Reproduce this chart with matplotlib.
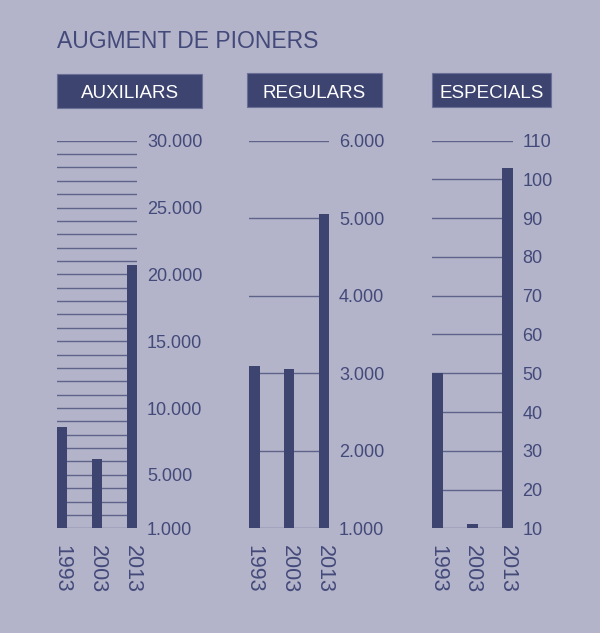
import matplotlib
matplotlib.use("Agg")
import matplotlib.pyplot as plt
from matplotlib.patches import Rectangle

plt.rcParams['font.family'] = ['Liberation Sans', 'DejaVu Sans']

# dades
anys = ['1993', '2003', '2013']
auxiliars = [8600, 6200, 20700]
regulars = [3100, 3050, 5050]
especials = [50, 11, 103]

aux_ticks = [1000, 5000, 10000, 15000, 20000, 25000, 30000]
reg_ticks = [1000, 2000, 3000, 4000, 5000, 6000]
esp_ticks = [10, 20, 30, 40, 50, 60, 70, 80, 90, 100, 110]

aux_grid = list(range(1000, 30001, 1000))
reg_grid = list(range(1000, 6001, 1000))
esp_grid = list(range(10, 111, 10))

BG = '#b3b3c9'
NAVY = '#3d4470'
GRID = '#5f6389'
TXT = '#434a7a'

W, H = 600, 633
fig = plt.figure(figsize=(W / 100, H / 100), dpi=100)
fig.patch.set_facecolor(BG)


def fx(px):
    return px / W


def fy(py):
    return (H - py) / H


def label(v):
    return f"{v:,}".replace(',', '.')


def panel(x0, x1, values, ticks, grid, title, box):
    y0, y1 = 528.3, 140.7
    ax = fig.add_axes([fx(x0), fy(y0), fx(x1) - fx(x0), fy(y1) - fy(y0)])
    ax.set_facecolor('none')
    w = 0.305
    for g in grid:
        ax.axhline(g, color=GRID, lw=1.0, zorder=1)
    base = grid[0]
    ax.bar(range(len(anys)), [v - base for v in values], width=w, bottom=base,
           color=NAVY, zorder=2)
    ax.set_xlim(-w / 2, len(anys) - 1 + w / 2)
    ax.set_ylim(grid[0], grid[-1])
    for s in ax.spines.values():
        s.set_visible(False)
    ax.yaxis.tick_right()
    ax.set_yticks(ticks)
    ax.set_yticklabels([label(t) for t in ticks])
    ax.tick_params(axis='y', length=0, pad=7, labelsize=13, labelcolor=TXT)
    ax.set_xticks(range(len(anys)))
    ax.set_xticklabels(anys, rotation=-90)
    ax.tick_params(axis='x', length=0, pad=12, labelsize=15.5, labelcolor=TXT)

    bx0, bx1, by0, by1 = box
    fig.add_artist(Rectangle((fx(bx0), fy(by1)), fx(bx1) - fx(bx0), fy(by0) - fy(by1),
                             transform=fig.transFigure, facecolor=NAVY,
                             edgecolor='#6a6f95', lw=0.8))
    fig.text(fx((bx0 + bx1) / 2), fy(97.8), title, color='white',
             fontsize=13.5, ha='center', va='baseline')
    return ax


panel(56.7, 137.3, auxiliars, aux_ticks, aux_grid, 'AUXILIARS', (57.3, 202.3, 74, 108.3))
panel(249.0, 329.3, regulars, reg_ticks, reg_grid, 'REGULARS', (246.7, 382.3, 73.3, 107.3))
panel(432.3, 512.7, especials, esp_ticks, esp_grid, 'ESPECIALS', (431.7, 550.7, 73.3, 107.3))

fig.text(fx(57), fy(48), 'AUGMENT DE PIONERS', color=TXT, fontsize=16.5,
         ha='left', va='baseline')

fig.savefig('out.png', dpi=100, facecolor=BG)
